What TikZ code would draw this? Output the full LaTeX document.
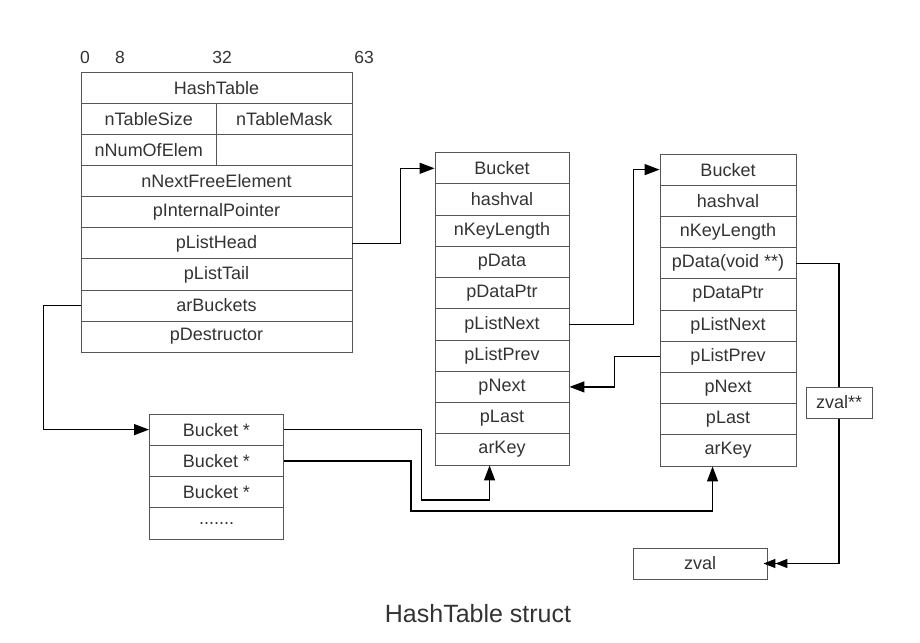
\documentclass[tikz,border=0pt]{standalone}
\usepackage{fontspec}
\setmainfont{Liberation Sans}
\usetikzlibrary{arrows.meta,calc}
\definecolor{ink}{HTML}{333333}
\definecolor{edge}{HTML}{555555}
\tikzset{
  cell/.style={draw=edge, line width=0.9pt, fill=white, inner sep=0pt, text=ink,
    font=\fontsize{18}{20}\selectfont, minimum height=31.1pt},
  arr/.style={draw=black, line width=1.3pt, -{Triangle[length=15pt,width=11pt]}},
  darr/.style={draw=black, line width=1.3pt, -{Triangle[length=12pt,width=9pt]Triangle[length=12pt,width=9pt,sep=-4pt]}},
  num/.style={text=ink, font=\fontsize{17.5}{20}\selectfont, inner sep=0pt},
}
\begin{document}
\begin{tikzpicture}[x=1pt,y=-1pt]
\useasboundingbox (0,0) rectangle (920,642);
% header numbers
\node[num] (n0) at (85,57) {0};
\node[num] (n8) at (120,57) {8};
\node[num] (n32) at (222,57) {32};
\node[num] (n63) at (364,57) {63};
% HashTable
\def\hx{216.5}
\node[cell, minimum width=271pt] (hht) at (\hx,87.85) {HashTable};
\node[cell, minimum width=135.5pt] (hts) at (148.75,118.95) {nTableSize};
\node[cell, minimum width=135.5pt] (htm) at (284.25,118.95) {nTableMask};
\node[cell, minimum width=135.5pt] (hne) at (148.75,150.05) {nNumOfElem};
\node[cell, minimum width=135.5pt] (hemp) at (284.25,150.05) {};
\node[cell, minimum width=271pt] (hnf) at (\hx,181.15) {nNextFreeElement};
\node[cell, minimum width=271pt] (hip) at (\hx,212.25) {pInternalPointer};
\node[cell, minimum width=271pt] (hlh) at (\hx,243.35) {pListHead};
\node[cell, minimum width=271pt] (hlt) at (\hx,274.45) {pListTail};
\node[cell, minimum width=271pt] (hab) at (\hx,305.55) {arBuckets};
\node[cell, minimum width=271pt] (hpd) at (\hx,336.65) {pDestructor};
% middle bucket
\foreach \n/\t [count=\i from 0] in {bh/Bucket,bhv/hashval,bkl/nKeyLength,bpd/pData,bdp/pDataPtr,bln/pListNext,blp/pListPrev,bpn/pNext,bpl/pLast,bak/arKey}{
  \node[cell, minimum width=134pt, minimum height=31.23pt] (a\n) at (502,{168.3+\i*31.23}) {\t};
}
% right bucket
\foreach \n/\t [count=\i from 0] in {bh/Bucket,bhv/hashval,bkl/nKeyLength,bpd/pData(void **),bdp/pDataPtr,bln/pListNext,blp/pListPrev,bpn/pNext,bpl/pLast,bak/arKey}{
  \node[cell, minimum width=136pt, minimum height=31.2pt] (c\n) at (728,{169.6+\i*31.2}) {\t};
}
% Bucket* array
\node[cell, minimum width=134pt, minimum height=31.25pt] (p1) at (216.5,429.6) {Bucket *};
\node[cell, minimum width=134pt, minimum height=31.25pt] (p2) at (216.5,460.85) {Bucket *};
\node[cell, minimum width=134pt, minimum height=31.25pt] (p3) at (216.5,492.1) {Bucket *};
\node[cell, minimum width=134pt, minimum height=31.25pt] (p4) at (216.5,523.35) {.......};
% zval boxes
\node[cell, minimum width=66pt] (zpp) at (839,402.5) {zval**};
\node[cell, minimum width=134pt] (zv) at (700,563.5) {zval};
% connectors
\draw[arr] (hlh.east) -- ++(48,0) |- (abh.west);
\draw[arr] (abln.east) -- ++(64,0) |- (cbh.west);
\draw[arr] (cblp.west) -- ++(-45,0) |- (abpn.east);
\draw[arr] (hab.west) -- ++(-37,0) |- (p1.west);
\draw[arr] (p1.east) -| ++(137.5,70.4) -| ($(abak.south west)+(55,0)$);
\draw[arr] (p2.east) -| ++(127,50.1) -| ($(cbak.south west)+(53,0)$);
\draw[draw=black, line width=1.3pt] (cbpd.east) -| (zpp.north);
\draw[darr] (zpp.south) |- (zv.east);
% caption
\node[text=ink, font=\fontsize{25}{28}\selectfont, inner sep=0pt] (cap) at (478,614) {HashTable struct};
\end{tikzpicture}
\end{document}
